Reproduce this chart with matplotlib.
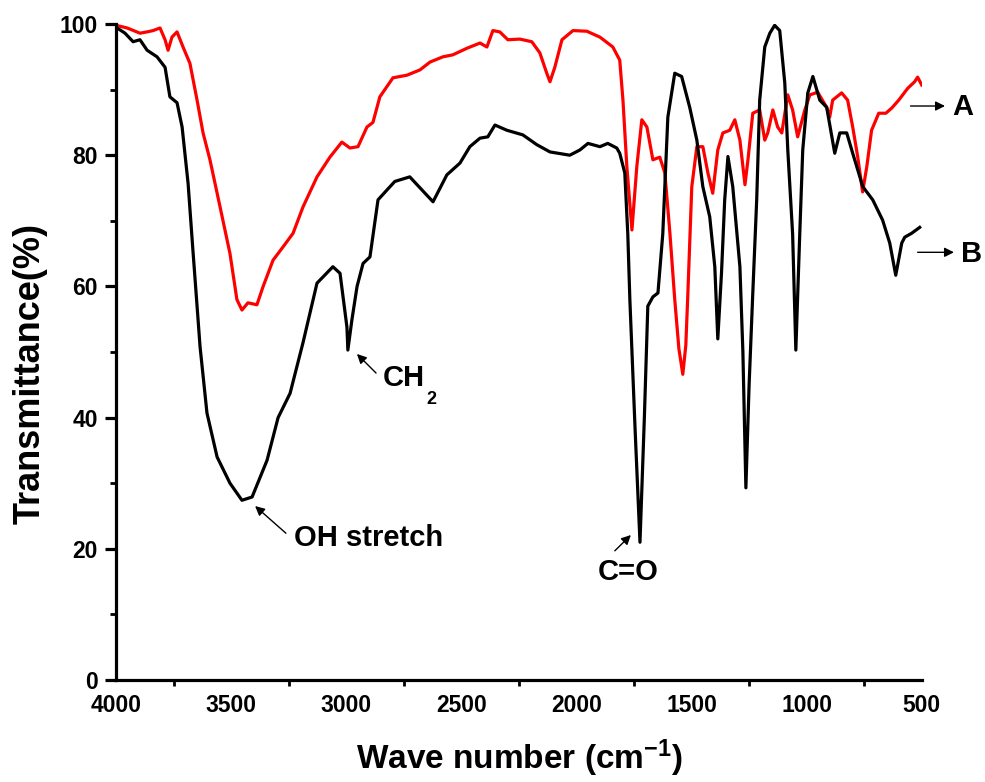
import numpy as np
import matplotlib
matplotlib.use("Agg")
import matplotlib.pyplot as plt
from matplotlib.ticker import MultipleLocator

plt.rcParams['font.family'] = ['Liberation Sans', 'DejaVu Sans']
plt.rcParams['font.weight'] = 'bold'
plt.rcParams['mathtext.fontset'] = 'custom'
plt.rcParams['mathtext.rm'] = 'Liberation Sans:bold'
plt.rcParams['mathtext.bf'] = 'Liberation Sans:bold'
plt.rcParams['mathtext.default'] = 'bf'

# spectrum A (red), wavenumber / transmittance
wn_a = [4000, 3952, 3896, 3865, 3839, 3809, 3787, 3774, 3757, 3735, 3709, 3679,
        3648, 3622, 3592, 3548, 3505, 3475, 3453, 3427, 3388, 3362, 3318, 3275,
        3231, 3188, 3127, 3071, 3019, 2984, 2949, 2910, 2884, 2854, 2797, 2736,
        2680, 2636, 2580, 2537, 2476, 2419, 2389, 2363, 2333, 2298, 2246, 2194,
        2159, 2129, 2115, 2094, 2063, 2015, 1955, 1898, 1842, 1812, 1798, 1781,
        1759, 1738, 1716, 1694, 1668, 1638, 1616, 1594, 1573, 1555, 1538, 1525,
        1517, 1499, 1477, 1451, 1429, 1408, 1386, 1364, 1334, 1312, 1290, 1268,
        1255, 1234, 1204, 1182, 1169, 1147, 1126, 1108, 1082, 1061, 1039, 1008,
        986, 952, 913, 900, 887, 848, 822, 800, 778, 757, 739, 718, 687, 656,
        630, 600, 561, 531, 518, 500]
tr_a = [99.8, 99.4, 98.6, 98.8, 99.0, 99.4, 97.6, 96.0, 98.0, 98.8, 96.5, 94.0,
        88.4, 83.4, 79.3, 72.1, 65.0, 58.0, 56.4, 57.5, 57.2, 59.9, 64.0, 66.0,
        68.1, 72.1, 76.7, 79.7, 82.0, 81.1, 81.3, 84.3, 85.0, 88.9, 91.8, 92.2,
        93.0, 94.2, 95.0, 95.3, 96.3, 97.1, 96.5, 99.0, 98.8, 97.6, 97.7, 97.3,
        95.6, 92.5, 91.2, 93.4, 97.6, 99.0, 98.9, 98.0, 96.5, 94.5, 88.4, 78.2,
        68.6, 78.2, 85.4, 84.3, 79.3, 79.7, 77.3, 68.1, 58.0, 50.5, 46.6, 51.0,
        58.0, 75.2, 81.3, 81.3, 77.3, 74.2, 80.8, 83.4, 83.8, 85.4, 82.3, 75.5,
        79.3, 86.4, 86.9, 82.3, 83.4, 86.9, 84.3, 83.4, 89.2, 86.9, 82.8, 86.9,
        89.2, 89.6, 87.3, 85.8, 88.4, 89.5, 88.4, 84.3, 79.7, 74.4, 78.2, 83.8,
        86.4, 86.4, 87.2, 88.4, 90.2, 91.2, 91.9, 90.7]

# spectrum B (black)
wn_b = [4000, 3961, 3926, 3896, 3865, 3822, 3787, 3766, 3735, 3713, 3687, 3666,
        3648, 3635, 3605, 3561, 3505, 3453, 3409, 3344, 3296, 3244, 3188, 3127,
        3058, 3027, 2997, 2993, 2975, 2953, 2927, 2897, 2862, 2823, 2789, 2724,
        2671, 2623, 2563, 2506, 2463, 2419, 2385, 2354, 2302, 2233, 2172, 2115,
        2029, 1985, 1950, 1898, 1864, 1825, 1812, 1790, 1777, 1768, 1745, 1724,
        1705, 1690, 1668, 1646, 1625, 1603, 1573, 1543, 1508, 1477, 1451, 1421,
        1399, 1386, 1370, 1356, 1342, 1321, 1290, 1277, 1264, 1250, 1234, 1217,
        1204, 1182, 1160, 1139, 1117, 1095, 1082, 1061, 1047, 1030, 1017, 995,
        973, 943, 913, 878, 856, 826, 800, 756, 713, 670, 639, 613, 587, 574,
        544, 509]
tr_b = [99.5, 98.6, 97.3, 97.6, 96.0, 95.0, 93.4, 88.9, 88.0, 84.3, 75.7, 65.5,
        57.0, 50.8, 40.7, 34.0, 30.0, 27.4, 27.9, 33.5, 40.0, 43.7, 51.4, 60.5,
        63.0, 62.0, 53.8, 50.3, 55.0, 60.0, 63.5, 64.5, 73.2, 74.7, 76.0, 76.7,
        74.7, 72.9, 77.0, 78.8, 81.3, 82.6, 82.8, 84.6, 83.8, 83.1, 81.6, 80.5,
        80.0, 80.8, 81.8, 81.3, 81.8, 81.1, 80.3, 77.3, 68.0, 58.0, 38.0, 21.0,
        40.0, 57.0, 58.4, 59.0, 68.0, 85.8, 92.5, 92.0, 87.3, 82.3, 75.2, 70.6,
        63.0, 52.0, 62.0, 73.2, 79.8, 75.2, 63.0, 50.0, 29.3, 45.0, 59.0, 73.2,
        88.4, 96.5, 98.6, 99.8, 99.0, 91.0, 80.8, 68.0, 50.3, 68.0, 80.8, 89.5,
        92.0, 88.4, 87.3, 80.3, 83.4, 83.4, 80.3, 75.2, 73.2, 70.1, 66.6, 61.7,
        66.6, 67.5, 68.1, 69.0]

fig = plt.figure(figsize=(9.85, 7.82), dpi=100)
ax = fig.add_axes([0.1178, 0.1304, 0.818, 0.8389])

ax.plot(wn_a, tr_a, color='#ff0000', lw=2.3)
ax.plot(wn_b, tr_b, color='black', lw=2.3)

ax.set_xlim(4000, 500)
ax.set_ylim(0, 100)
for s in ['top', 'right']:
    ax.spines[s].set_visible(False)
for s in ['left', 'bottom']:
    ax.spines[s].set_linewidth(2.3)

ax.xaxis.set_major_locator(MultipleLocator(500))
ax.xaxis.set_minor_locator(MultipleLocator(250))
ax.yaxis.set_major_locator(MultipleLocator(20))
ax.yaxis.set_minor_locator(MultipleLocator(10))
ax.tick_params(axis='x', which='major', length=0, width=2.3, pad=10, labelsize=16.5)
ax.tick_params(axis='x', which='minor', length=4, width=2)
ax.tick_params(axis='y', which='major', length=8, width=2.3, pad=5, labelsize=16.5)
ax.tick_params(axis='y', which='minor', length=4, width=2)
# only the end tick at 500 is drawn on the x axis
fig.canvas.draw()
ax.xaxis.get_major_ticks()[-1].tick1line.set_markersize(8)

ax.set_xlabel('Wave number (cm$^{-1}$)', fontsize=24, fontweight='bold')
ax.set_ylabel('Transmittance(%)', fontsize=26, fontweight='bold')
ax.xaxis.set_label_coords(0.5, -0.088)
ax.yaxis.set_label_coords(-0.085, 0.468)

arr = dict(arrowstyle='-|>', color='black', lw=1.0, mutation_scale=14)

ax.annotate('', xy=(3405, 26.8), xytext=(3253, 22.1), arrowprops=arr)
ax.text(3225, 21.6, 'OH stretch', fontsize=21, fontweight='bold', ha='left', va='center')

ax.annotate('', xy=(2962, 50.0), xytext=(2862, 46.5), arrowprops=arr)
ax.text(2841, 46.0, 'CH', fontsize=21, fontweight='bold', ha='left', va='center')
ax.text(2650, 42.8, '2', fontsize=13, fontweight='bold', ha='left', va='center')

ax.annotate('', xy=(1755, 22.4), xytext=(1842, 19.4), arrowprops=arr)
ax.text(1777, 16.5, 'C=O', fontsize=21, fontweight='bold', ha='center', va='center')

ax.annotate('', xy=(387, 87.5), xytext=(561, 87.5), arrowprops=arr, annotation_clip=False)
ax.text(322, 87.3, 'A', fontsize=21, fontweight='bold', ha='center', va='center', clip_on=False)
ax.annotate('', xy=(348, 65.2), xytext=(530, 65.2), arrowprops=arr, annotation_clip=False)
ax.text(283, 65.0, 'B', fontsize=21, fontweight='bold', ha='center', va='center', clip_on=False)

fig.savefig('out.png', dpi=100)
